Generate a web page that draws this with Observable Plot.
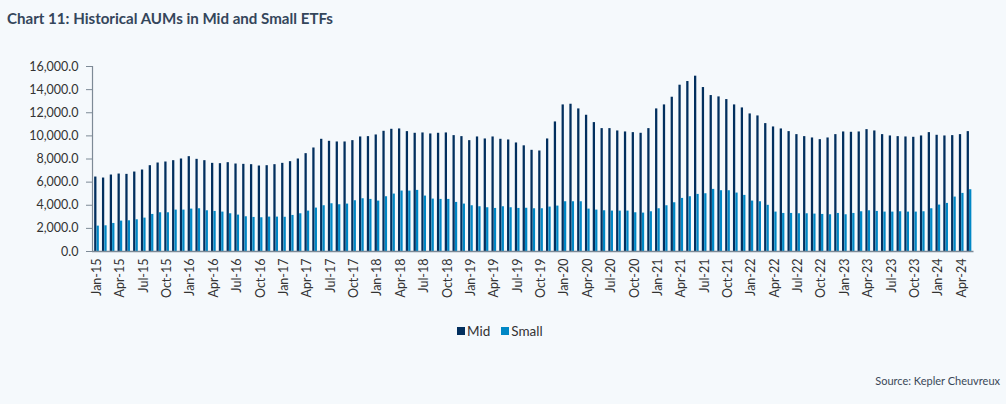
<!DOCTYPE html>
<html>
<head>
<meta charset="utf-8">
<script src="https://cdn.jsdelivr.net/npm/d3@7"></script>
<script src="https://cdn.jsdelivr.net/npm/@observablehq/plot@0.6"></script>
<style>
  html, body { margin: 0; padding: 0; background: #f5f9fc; }
  #wrap { position: relative; width: 1006px; height: 404px; background: #f5f9fc; font-family: Lato, "Open Sans", sans-serif; overflow: hidden; }
  #title { position: absolute; left: 7px; top: 9px; font-size: 15.1px; font-weight: bold; color: #34465b; white-space: nowrap; }
  #chart { position: absolute; left: 0; top: 40px; }
  #legend { position: absolute; left: 457px; top: 323px; font-size: 13.5px; color: #333; display: flex; align-items: center; white-space: nowrap; }
  #legend .sw { display: inline-block; width: 8px; height: 8px; margin-right: 2px; }
  #legend .item { display: flex; align-items: center; margin-right: 11px; }
  #source { position: absolute; right: 6px; top: 374px; font-size: 11px; color: #3a4858; white-space: nowrap; }
</style>
</head>
<body>
<div id="wrap">
  <div id="title">Chart 11: Historical AUMs in Mid and Small ETFs</div>
  <div id="chart"></div>
  <div id="legend"></div>
  <div id="source">Source: Kepler Cheuvreux</div>
</div>
<script>
// Categories: monthly, Jan-15 .. May-24
const months = d3.utcMonths(new Date(Date.UTC(2015, 0, 1)), new Date(Date.UTC(2024, 5, 1))).map(d3.utcFormat("%b-%y"));
const tickMonths = months.filter((d, i) => i % 3 === 0);
const seriesNames = ["Mid", "Small"];
const seriesColors = ["#022f5e", "#0087c5"];
const yTicks = [0, 2000, 4000, 6000, 8000, 10000, 12000, 14000, 16000];

const mid = [
  6440, 6354, 6614, 6700, 6671, 6873, 7047, 7422, 7653, 7740, 7855, 8000,
  8202, 7971, 7855, 7624, 7595, 7682, 7567, 7538, 7509, 7393, 7422, 7509,
  7624, 7769, 8000, 8462, 8953, 9704, 9530, 9473, 9473, 9588, 9906, 9935,
  10079, 10397, 10570, 10599, 10368, 10224, 10253, 10166, 10224, 10253, 10022, 9935,
  9588, 9906, 9733, 9906, 9704, 9646, 9386, 9140, 8751, 8693, 9733, 11205,
  12678, 12736, 12332, 11783, 11148, 10628, 10628, 10426, 10339, 10281, 10224, 10628,
  12332, 12678, 13342, 14382, 14700, 15162, 14180, 13487, 13371, 13140, 12678, 12418,
  11898, 11725, 11061, 10772, 10599, 10368, 10108, 9935, 9819, 9675, 9819, 10108,
  10339, 10310, 10339, 10541, 10426, 10108, 9993, 9935, 9906, 9877, 9993, 10281,
  10050, 9993, 10022, 10108, 10368
];
const small = [
  2195, 2224, 2426, 2628, 2657, 2744, 2888, 3206, 3350, 3350, 3581, 3581,
  3668, 3697, 3523, 3466, 3408, 3264, 3148, 3004, 2946, 2917, 2975, 2975,
  2960, 3119, 3264, 3495, 3755, 3957, 4130, 4043, 4101, 4390, 4563, 4505,
  4361, 4736, 4967, 5227, 5227, 5285, 4794, 4534, 4505, 4505, 4245, 4101,
  3957, 3870, 3783, 3725, 3870, 3783, 3725, 3740, 3697, 3697, 3842, 3928,
  4303, 4303, 4303, 3668, 3581, 3523, 3495, 3495, 3495, 3350, 3321, 3437,
  3697, 3957, 4216, 4592, 4736, 4938, 4996, 5372, 5256, 5256, 5054, 4852,
  4361, 4303, 3995, 3408, 3292, 3292, 3264, 3264, 3235, 3206, 3177, 3292,
  3177, 3292, 3437, 3523, 3466, 3408, 3408, 3437, 3408, 3408, 3437, 3697,
  4014, 4159, 4707, 5025, 5343
];

const midRows = months.map((m, i) => ({month: m, series: "Mid", value: mid[i]}));
const smallRows = months.map((m, i) => ({month: m, series: "Small", value: small[i]}));

const chart = Plot.plot({
  width: 1006,
  height: 270,
  marginTop: 26,
  marginBottom: 59,
  marginLeft: 92,
  marginRight: 32.5,
  style: { background: "transparent", fontFamily: "Lato, 'Open Sans', sans-serif", fontSize: "12.5px", color: "#333" },
  x: { type: "band", domain: months, paddingInner: 0.4, paddingOuter: 0.278, align: 0.5, label: null, axis: null },
  y: { domain: [0, 16000], label: null, axis: null },
  color: { domain: seriesNames, range: seriesColors },
  marks: [
    Plot.barY(midRows, { x: "month", y: "value", fill: "series", insetRight: 2.4 }),
    Plot.barY(smallRows, { x: "month", y: "value", fill: "series", insetLeft: 2.4 }),
    Plot.ruleY([0], { stroke: "#7d8a96", strokeWidth: 1.5 }),
    Plot.ruleX([months[0]], { dx: -4.5, y1: 0, y2: 16000, stroke: "#7d8a96", strokeWidth: 1.2 }),
    Plot.axisY(yTicks, { tickFormat: d3.format(",.1f"), tickSize: 6, tickPadding: 8, stroke: "#7d8a96", fill: "#333", label: null }),
    Plot.axisX(tickMonths, { tickRotate: -90, tickSize: 0, tickPadding: 7, fill: "#333", label: null })
  ]
});
document.getElementById("chart").appendChild(chart);

const legend = document.getElementById("legend");
seriesNames.forEach((name, i) => {
  const item = document.createElement("span");
  item.className = "item";
  const sw = document.createElement("span");
  sw.className = "sw";
  sw.style.background = seriesColors[i];
  item.appendChild(sw);
  item.appendChild(document.createTextNode(name));
  legend.appendChild(item);
});
</script>
</body>
</html>
